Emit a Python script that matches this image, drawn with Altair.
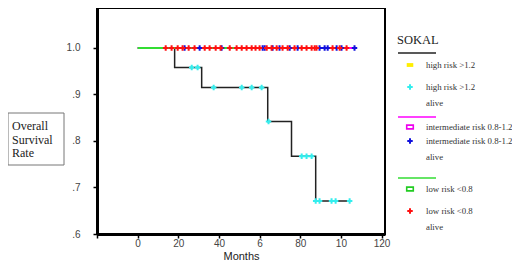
import altair as alt
import pandas as pd

# ---- data ----
# high risk (>1.2) Kaplan-Meier step curve
high_months = [0, 18.2, 31.5, 64.0, 75.7, 87.6, 104.3]
high_surv = [1.0, 0.958, 0.915, 0.842, 0.767, 0.671, 0.671]
# high risk censored (alive) marks
high_cens_months = [26.6, 29.5, 37.4, 51.2, 56.1, 61.0, 64.4, 80.7, 83.1, 85.6,
                    87.6, 89.5, 95.4, 97.4, 104.3]
high_cens_surv = [0.958, 0.958, 0.915, 0.915, 0.915, 0.915, 0.842, 0.767, 0.767, 0.767,
                  0.671, 0.671, 0.671, 0.671, 0.671]
# intermediate risk: flat at 1.0
inter_months = [0, 106.7]
inter_surv = [1.0, 1.0]
inter_cens_months = [23.1, 30.5, 41.3, 61.5, 62.5, 66.4, 69.8, 74.8, 78.7, 89.5,
                     92.0, 93.5, 97.9, 100.3, 106.7]
# low risk: flat at 1.0
low_months = [0, 102.8]
low_surv = [1.0, 1.0]
low_cens_months = [13.8, 16.7, 19.7, 22.1, 25.1, 28.0, 33.0, 35.4, 38.4, 40.8, 45.3,
                   48.7, 51.2, 53.6, 56.1, 58.0, 60.0, 63.5, 65.9, 68.4, 71.3, 73.8,
                   77.2, 80.7, 83.1, 85.6, 87.1, 88.0, 95.9, 99.4, 102.8]

x_ticks = [-20, 0, 20, 40, 60, 80, 100, 120]
x_tick_labels = ["", "0", "20", "40", "6", "80", "10", "120"]
y_ticks = [0.6, 0.7, 0.8, 0.9, 1.0]
y_tick_labels = [".6", ".7", ".8", ".9", "1.0"]

legend_title = "SOKAL"
legend_labels = ["high risk >1.2", "high risk >1.2", "intermediate risk 0.8-1.2",
                 "intermediate risk 0.8-1.2", "low risk <0.8", "low risk <0.8"]
y_title_lines = ["Overall", "Survival", "Rate"]

# ---- build tables ----
high_df = pd.DataFrame({"m": high_months, "s": high_surv})
inter_df = pd.DataFrame({"m": inter_months, "s": inter_surv})
low_df = pd.DataFrame({"m": low_months, "s": low_surv})
cens = pd.concat([
    pd.DataFrame({"m": high_cens_months, "s": high_cens_surv, "c": "high alive"}),
    pd.DataFrame({"m": inter_cens_months, "s": [1.0] * len(inter_cens_months), "c": "inter alive"}),
    pd.DataFrame({"m": low_cens_months, "s": [1.0] * len(low_cens_months), "c": "low alive"}),
])

def lab_expr(ticks, labels):
    e = "datum.label"
    for t, l in zip(ticks, labels):
        e = f"abs(datum.value - ({t})) < 1e-6 ? '{l}' : ({e})"
    return e

xs = alt.Scale(domain=[-20, 121.7], nice=False, zero=False)
ys = alt.Scale(domain=[0.6, 1.08602], nice=False, zero=False)

X = alt.X("m:Q", scale=xs, axis=alt.Axis(
    values=x_ticks, labelExpr=lab_expr(x_ticks, x_tick_labels), title="Months",
    grid=False, domainColor="black", domainWidth=3, tickColor="black", tickSize=4,
    tickWidth=1.5, labelFont="Liberation Sans", labelFontSize=10, labelColor="#444",
    labelPadding=0, titleFont="Liberation Sans", titleFontSize=11, titleFontWeight="normal",
    titleColor="#222", titlePadding=2))
Y = alt.Y("s:Q", scale=ys, axis=alt.Axis(
    values=y_ticks, labelExpr=lab_expr(y_ticks, y_tick_labels), title=None,
    grid=False, domainColor="black", domainWidth=3, tickColor="black", tickSize=4,
    tickWidth=1.5, labelFont="Liberation Sans", labelFontSize=10, labelColor="#444",
    labelPadding=13))

cens_colors = alt.Scale(domain=["high alive", "inter alive", "low alive"],
                        range=["#33eeee", "#1010dd", "#ff1010"])

plus = "M-1,0L1,0M0,-1L0,1"

layers = [
    alt.Chart(high_df).mark_line(interpolate="step-after", strokeWidth=1.5, color="#222222").encode(x=X, y=Y),
    alt.Chart(inter_df).mark_line(strokeWidth=2, color="#ff00ff").encode(x=X, y=Y),
    alt.Chart(low_df).mark_line(strokeWidth=2, color="#33dd33").encode(x=X, y=Y),
    alt.Chart(cens).mark_point(shape=plus, size=30, strokeWidth=2, filled=False, opacity=1).encode(
        x=X, y=Y, stroke=alt.Stroke("c:N", scale=cens_colors, legend=None)),
]

one = pd.DataFrame({"k": [0]})

# frame (top and right borders)
layers.append(alt.Chart(one).mark_rect(fill=None, fillOpacity=0, stroke="black", strokeWidth=2).encode(
    x=alt.value(0), x2=alt.value(288), y=alt.value(0), y2=alt.value(226)))

# ---- manual legend ----
serif = "Liberation Serif"
layers.append(alt.Chart(one).mark_text(text=legend_title, font=serif, fontSize=12.5,
              align="left", baseline="middle", color="#222").encode(
    x=alt.value(300), y=alt.value(32)))
for yy, col in [(45, "#222222"), (109, "#ff00ff"), (170, "#33dd33")]:
    layers.append(alt.Chart(one).mark_rule(color=col, strokeWidth=1.5).encode(
        x=alt.value(301), x2=alt.value(339), y=alt.value(yy)))
sym_rows = [
    (57, "square", "#ffee00", True, legend_labels[0], False),
    (79, plus, "#33eeee", False, legend_labels[1], True),
    (119, "square", "#ee00ee", False, legend_labels[2], False),
    (133, plus, "#1010dd", False, legend_labels[3], True),
    (181, "square", "#22cc22", False, legend_labels[4], False),
    (203, plus, "#ff1010", False, legend_labels[5], True),
]
for yy, shp, col, filled, txt, alive in sym_rows:
    if shp == "square":
        mk = alt.Chart(one).mark_point(shape="M-1.2,-0.7L1.2,-0.7L1.2,0.7L-1.2,0.7Z", size=30,
                                       filled=filled, color=col, strokeWidth=1.6, opacity=1)
    else:
        mk = alt.Chart(one).mark_point(shape=plus, size=30, filled=False, color=col,
                                       strokeWidth=2, opacity=1)
    layers.append(mk.encode(x=alt.value(313), y=alt.value(yy)))
    layers.append(alt.Chart(one).mark_text(text=txt, font=serif, fontSize=8.8, align="left",
                  baseline="middle", color="#333").encode(x=alt.value(329), y=alt.value(yy)))
    if alive:
        layers.append(alt.Chart(one).mark_text(text="alive", font=serif, fontSize=8.8,
                      align="left", baseline="middle", color="#333").encode(
            x=alt.value(329), y=alt.value(yy + 16)))

# ---- y title box ----
layers.append(alt.Chart(one).mark_rect(fill="white", stroke="#777", strokeWidth=1).encode(
    x=alt.value(-89), x2=alt.value(-33), y=alt.value(105), y2=alt.value(157)))
for i, t in enumerate(y_title_lines):
    layers.append(alt.Chart(one).mark_text(text=t, font=serif, fontSize=12, align="left",
                  baseline="middle", color="#222").encode(
        x=alt.value(-85), y=alt.value(118 + 13.5 * i)))

chart = alt.layer(*layers).properties(
    width=288, height=226,
    background="white",
    autosize=alt.AutoSizeParams(type="none"),
    padding={"left": 89, "top": 0, "right": 127, "bottom": 28},
).configure_view(stroke="black", strokeWidth=2)

chart.save("out.html", embed_options={"renderer": "svg", "actions": False})
